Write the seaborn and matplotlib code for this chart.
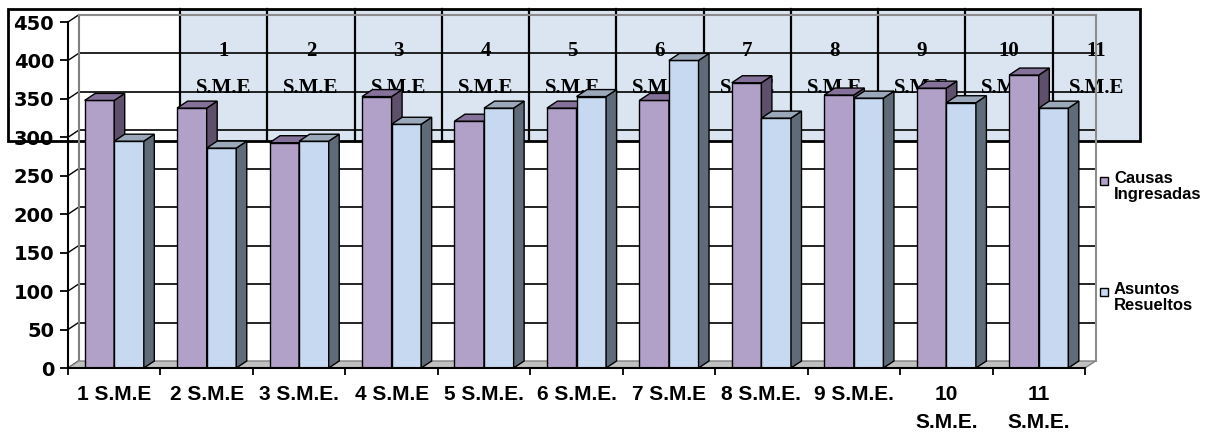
import numpy as np
import pandas as pd
import matplotlib
matplotlib.use("Agg")
import matplotlib.pyplot as plt
import seaborn as sns
from matplotlib.patches import Polygon, Rectangle

# datos
categorias = ["1 S.M.E", "2 S.M.E", "3 S.M.E.", "4 S.M.E", "5 S.M.E.", "6 S.M.E.",
              "7 S.M.E", "8 S.M.E.", "9 S.M.E.", "10\nS.M.E.", "11\nS.M.E."]
causas = [348, 338, 293, 353, 321, 338, 348, 371, 355, 364, 381]
asuntos = [295, 286, 295, 317, 338, 353, 400, 325, 351, 345, 338]
series = ["Causas\nIngresadas", "Asuntos\nResueltos"]
tabla_num = ["1", "2", "3", "4", "5", "6", "7", "8", "9", "10", "11"]
tabla_txt = "S.M.E"

colores = ["#b1a0c7", "#c6d9f0"]
techo = ["#85729a", "#9aa8ba"]
lado = ["#5e4f6b", "#5f6b78"]

df = pd.DataFrame({
    "cat": categorias * 2,
    "serie": [series[0]] * len(causas) + [series[1]] * len(asuntos),
    "valor": causas + asuntos,
})

W, H = 1225, 434
fig = plt.figure(figsize=(W / 100, H / 100), dpi=100)

# capa de fondo en pixeles (tabla superpuesta + leyenda)
ax_t = fig.add_axes([0, 0, 1, 1])
ax_t.set_xlim(0, W)
ax_t.set_ylim(H, 0)
ax_t.axis("off")

t_x0, t_x1, t_y0, t_y1 = 8, 1140, 9, 141
col0 = 180
ncol = len(tabla_num)
cw = (t_x1 - col0) / ncol
ax_t.add_patch(Rectangle((col0, t_y0), t_x1 - col0, t_y1 - t_y0, fc="#dbe5f1", ec="none"))
ax_t.add_patch(Rectangle((t_x0, t_y0), t_x1 - t_x0, t_y1 - t_y0, fc="none", ec="black", lw=2))
for i in range(ncol):
    xl = col0 + i * cw
    ax_t.plot([xl, xl], [t_y0, t_y1], color="black", lw=1.6)
    ax_t.text(xl + cw / 2, 51, tabla_num[i], ha="center", va="center",
              family="Liberation Serif", weight="bold", fontsize=15)
    ax_t.text(xl + cw / 2, 88, tabla_txt, ha="center", va="center",
              family="Liberation Serif", weight="bold", fontsize=15)

# leyenda
for i, s in enumerate(series):
    y0 = 181 + i * 111
    ax_t.add_patch(Rectangle((1100, y0 - 4), 8, 8, fc=colores[i], ec="black", lw=1))
    ax_t.text(1114, y0 - 10, s, ha="left", va="top", family="Liberation Sans",
              weight="bold", fontsize=12, linespacing=1.1)

# grafico principal
left, right, bot, top = 68, 1085, 368, 22
ax = fig.add_axes([left / W, (H - bot) / H, (right - left) / W, (bot - top) / H])
ax.set_zorder(1)
ax.patch.set_visible(False)

sns.barplot(data=df, x="cat", y="valor", hue="serie", order=categorias, hue_order=series,
            palette=colores, saturation=1, width=0.64, edgecolor="black", linewidth=1,
            legend=False, ax=ax)

ax.set_xlim(-0.5, len(categorias) - 0.5)
ax.set_ylim(0, 450)
px_x = (right - left) / len(categorias)
px_y = (bot - top) / 450
dx = 10.5 / px_x
dy = 7.0 / px_y
xa, xb = -0.5, len(categorias) - 0.5

# piso y paredes
ax.add_patch(Polygon([(xa, 0), (xb, 0), (xb + dx, dy), (xa + dx, dy)], closed=True,
                     fc="#c0c0c0", ec="#808080", lw=1, zorder=1.5, clip_on=False))
for v in range(50, 450, 50):
    ax.plot([xa + dx, xb + dx], [v + dy, v + dy], color="black", lw=1.2, zorder=1, clip_on=False)
for v in range(0, 451, 50):
    ax.plot([xa, xa + dx], [v, v + dy], color="black", lw=1, zorder=1, clip_on=False)
ax.plot([xa + dx, xa + dx], [dy, 450 + dy], color="#808080", lw=1.5, zorder=1, clip_on=False)
ax.plot([xb + dx, xb + dx], [dy, 450 + dy], color="#8c8c8c", lw=1.5, zorder=1, clip_on=False)
ax.plot([xa + dx, xb + dx], [450 + dy, 450 + dy], color="#8c8c8c", lw=1.5, zorder=1, clip_on=False)

# caras 3D de las barras
for i, cont in enumerate(ax.containers):
    z = 3 + i
    for bar in cont:
        x0 = bar.get_x()
        x1 = x0 + bar.get_width()
        h = bar.get_height()
        bar.set_zorder(z)
        ax.add_patch(Polygon([(x1, 0), (x1 + dx, dy), (x1 + dx, h + dy), (x1, h)], closed=True,
                             fc=lado[i], ec="black", lw=1, zorder=z, clip_on=False))
        ax.add_patch(Polygon([(x0, h), (x0 + dx, h + dy), (x1 + dx, h + dy), (x1, h)], closed=True,
                             fc=techo[i], ec="black", lw=1, zorder=z, clip_on=False))

ax.set_xlabel("")
ax.set_ylabel("")
for s in ["top", "right"]:
    ax.spines[s].set_visible(False)
ax.spines["left"].set_linewidth(1.5)
ax.spines["bottom"].set_linewidth(1.5)
ax.spines["left"].set_zorder(6)
ax.spines["bottom"].set_zorder(6)

ax.set_yticks(range(0, 451, 50))
ax.set_yticklabels([str(v) for v in range(0, 451, 50)], family="DejaVu Sans", weight="bold", fontsize=14)
ax.tick_params(axis="y", length=6, width=1.3, pad=4)

ax.set_xticks(np.arange(len(categorias)))
ax.set_xticklabels(categorias, family="Liberation Sans", weight="bold", fontsize=15,
                   linespacing=1.6)
ax.set_xticks(np.arange(len(categorias) + 1) - 0.5, minor=True)
ax.tick_params(axis="x", which="major", length=0, pad=12)
ax.tick_params(axis="x", which="minor", length=5, width=1.3)

fig.savefig("out.png", dpi=100)
